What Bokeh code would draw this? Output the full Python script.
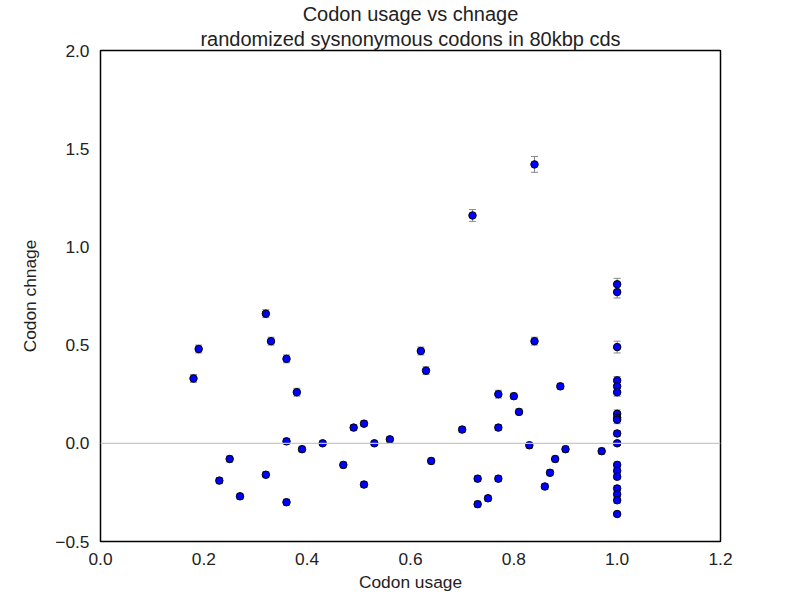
from bokeh.plotting import figure
from bokeh.models import Title, Whisker, ColumnDataSource, CustomJSTickFormatter, FixedTicker, Span, TeeHead
from bokeh.embed import file_html
from bokeh.resources import INLINE

usage = [0.18, 0.19, 0.23, 0.25, 0.27, 0.32, 0.32, 0.33, 0.36, 0.36, 0.36, 0.38, 0.39,
         0.43, 0.47, 0.49, 0.51, 0.51, 0.53, 0.56, 0.62, 0.63, 0.64, 0.70, 0.72, 0.73,
         0.73, 0.75, 0.77, 0.77, 0.77, 0.80, 0.81, 0.83, 0.84, 0.84, 0.86, 0.87, 0.88,
         0.89, 0.90, 0.97,
         1.0, 1.0, 1.0, 1.0, 1.0, 1.0, 1.0, 1.0, 1.0, 1.0, 1.0, 1.0, 1.0, 1.0, 1.0,
         1.0, 1.0, 1.0]
change = [0.33, 0.48, -0.19, -0.08, -0.27, 0.66, -0.16, 0.52, 0.43, 0.01, -0.30, 0.26, -0.03,
          0.0, -0.11, 0.08, 0.10, -0.21, 0.0, 0.02, 0.47, 0.37, -0.09, 0.07, 1.16, -0.18,
          -0.31, -0.28, 0.25, 0.08, -0.18, 0.24, 0.16, -0.01, 1.42, 0.52, -0.22, -0.15, -0.08,
          0.29, -0.03, -0.04,
          0.81, 0.77, 0.49, 0.32, 0.29, 0.26, 0.15, 0.13, 0.12, 0.05, 0.0, -0.11, -0.14,
          -0.17, -0.23, -0.26, -0.29, -0.36]
err = [0.02, 0.02, 0.015, 0.015, 0.015, 0.02, 0.015, 0.02, 0.02, 0.015, 0.015, 0.02, 0.015,
       0.01, 0.015, 0.015, 0.015, 0.015, 0.01, 0.015, 0.02, 0.02, 0.015, 0.015, 0.03, 0.015,
       0.015, 0.015, 0.02, 0.015, 0.015, 0.015, 0.015, 0.015, 0.04, 0.02, 0.015, 0.015, 0.015,
       0.015, 0.015, 0.015,
       0.03, 0.03, 0.03, 0.02, 0.02, 0.02, 0.02, 0.02, 0.02, 0.015, 0.01, 0.015, 0.015,
       0.015, 0.015, 0.015, 0.015, 0.01]

src = ColumnDataSource(dict(x=usage, y=change,
                            lo=[c - e for c, e in zip(change, err)],
                            hi=[c + e for c, e in zip(change, err)]))

FONT = "Liberation Sans"
p = figure(width=784, height=594, x_range=(0, 1.2), y_range=(-0.5, 2.0),
           output_backend="svg", toolbar_location=None,
           min_border_left=100, min_border_right=64, min_border_top=20, min_border_bottom=10)
p.title.visible = False
p.add_layout(Title(text="randomized sysnonymous codons in 80kbp cds", align="center",
                   text_font=FONT, text_font_size="15pt", text_font_style="normal",
                   text_color="#222222", standoff=2), "above")
p.add_layout(Title(text="Codon usage vs chnage", align="center",
                   text_font=FONT, text_font_size="15pt", text_font_style="normal",
                   text_color="#222222", standoff=0), "above")

p.grid.visible = False
p.outline_line_color = "black"
p.outline_line_width = 1.5
p.add_layout(Span(location=0, dimension="width", line_color="#c8c8c8", line_width=1.2))

fmt = CustomJSTickFormatter(code="return tick.toFixed(1).replace('-', '\u2212');")
p.xaxis.ticker = FixedTicker(ticks=[0, 0.2, 0.4, 0.6, 0.8, 1.0, 1.2])
p.yaxis.ticker = FixedTicker(ticks=[-0.5, 0, 0.5, 1.0, 1.5, 2.0])
for ax in (p.xaxis, p.yaxis):
    ax.formatter = fmt
    ax.axis_line_color = None
    ax.major_tick_line_color = None
    ax.minor_tick_line_color = None
    ax.major_label_text_font = FONT
    ax.major_label_text_font_size = "13pt"
    ax.major_label_text_color = "#222222"
    ax.axis_label_text_font = FONT
    ax.axis_label_text_font_size = "13pt"
    ax.axis_label_text_font_style = "normal"
    ax.axis_label_text_color = "#222222"
p.xaxis.axis_label = "Codon usage"
p.yaxis.axis_label = "Codon chnage"
p.xaxis.axis_label_standoff = 4
p.yaxis.axis_label_standoff = 12

p.add_layout(Whisker(source=src, base="x", lower="lo", upper="hi", line_color="#888888",
                     upper_head=TeeHead(size=7, line_color="#888888"),
                     lower_head=TeeHead(size=7, line_color="#888888")))
p.scatter("x", "y", source=src, size=7.5, fill_color="#0000ff", line_color="black", line_width=1)

open("out.html", "w").write(file_html(p, INLINE))
